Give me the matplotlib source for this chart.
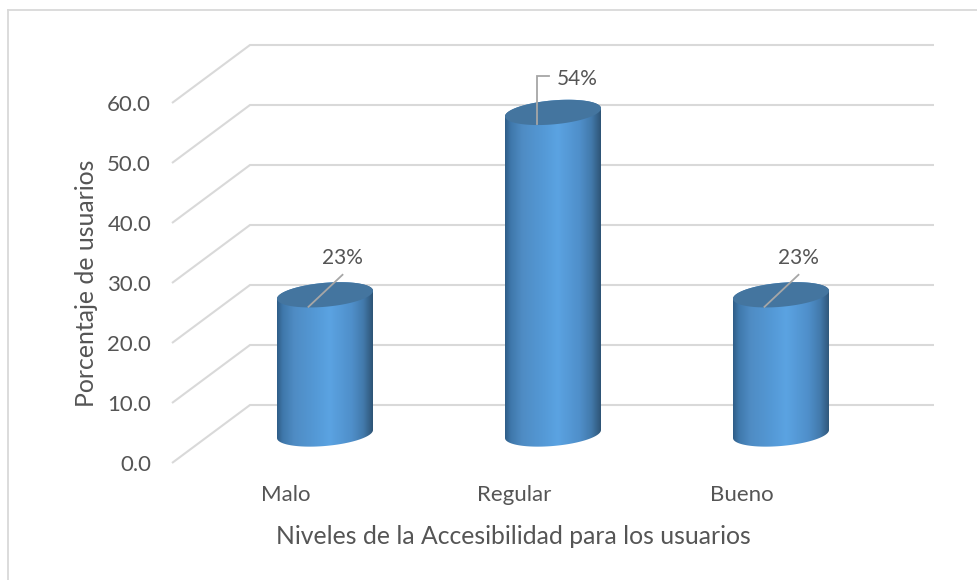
import numpy as np
from matplotlib import pyplot as plt
from matplotlib.colors import LinearSegmentedColormap
from matplotlib.lines import Line2D
from matplotlib.patches import Polygon

plt.rcParams['font.family'] = ['Lato', 'DejaVu Sans']

categorias = ["Malo", "Regular", "Bueno"]
valores = [23.2, 53.6, 23.2]
etiquetas = ["23%", "54%", "23%"]
ticks_y = [0, 10, 20, 30, 40, 50, 60]

# taille d'une unite en pixels (x : categorie, y : pourcentage)
PX_X = 228.0
PX_Y = 6.0
# profondeur du plancher 3D
DX = 78 / PX_X
DY = 58 / PX_Y

W, H = 978, 580
fig = plt.figure(figsize=(W / 100, H / 100), dpi=100)
ax = fig.add_axes([172 / W, 1 - 463 / H, 762 / W, 418 / H])
ax.set_xlim(-0.5, 2.5 + DX)
ax.set_ylim(0, 60 + DY)
for s in ax.spines.values():
    s.set_visible(False)

gris = "#d9d9d9"
texte = "#555555"

# cadre
fig.add_artist(Line2D([8 / W, 8 / W], [0, 1 - 10 / H], color=gris, lw=1.3))
fig.add_artist(Line2D([8 / W, 1], [1 - 10 / H, 1 - 10 / H], color=gris, lw=1.3))

# grille : diagonale + mur du fond
for v in ticks_y:
    ax.plot([-0.5, -0.5 + DX, 2.5 + DX], [v, v + DY, v + DY], color=gris, lw=1.5,
            solid_joinstyle='miter', solid_capstyle='butt', zorder=1, clip_on=False)

degrade = LinearSegmentedColormap.from_list("cyl", [
    (0.0, "#2f5d87"), (0.06, "#3f78ab"), (0.18, "#4f8cc4"), (0.40, "#5499d6"),
    (0.55, "#5ba3e2"), (0.78, "#4f8fca"), (0.90, "#437aac"), (1.0, "#2e5476")])
grad = np.linspace(0, 1, 256).reshape(1, -1)

A = 48 / PX_X
B = 12 / PX_Y
S = 4 / PX_Y


def cylindre(cx, hauteur):
    y0 = DY / 2
    t = np.linspace(0, 2 * np.pi, 200)
    # contour du corps : bas de l'ellipse du pied + haut de l'ellipse du sommet
    t_bas = np.linspace(np.pi, 2 * np.pi, 100)
    t_haut = np.linspace(0, np.pi, 100)
    xs = np.r_[cx + A * np.cos(t_bas), cx + A * np.cos(t_haut)]
    ys = np.r_[y0 + B * np.sin(t_bas) + S * np.cos(t_bas),
               y0 + hauteur + B * np.sin(t_haut) + S * np.cos(t_haut)]
    contour = Polygon(np.c_[xs, ys], closed=True, fc='none', ec='none', transform=ax.transData)
    ax.add_patch(contour)
    im = ax.imshow(grad, cmap=degrade, aspect='auto', zorder=2,
                   extent=[cx - A, cx + A, y0 - 5, y0 + hauteur + 5])
    im.set_clip_path(contour)
    sommet = np.c_[cx + A * np.cos(t), y0 + hauteur + B * np.sin(t) + S * np.cos(t)]
    ax.add_patch(Polygon(sommet, closed=True, fc="#44759f", ec='none', zorder=3))


for i, (nom, val) in enumerate(zip(categorias, valores)):
    cx = i + DX / 2
    cylindre(cx, val)
    base_y = DY / 2 + val - 12 / PX_Y
    lx = cx - 16.5 / PX_X
    if nom == "Regular":
        ax.plot([lx, lx, lx + 12 / PX_X], [base_y, base_y + 48 / PX_Y, base_y + 48 / PX_Y],
                color="#a6a6a6", lw=1.3, zorder=4, solid_joinstyle='miter')
        ax.text(lx + 41 / PX_X, base_y + 45 / PX_Y, etiquetas[i], ha='center', va='center',
                fontsize=15, color=texte, zorder=5)
    else:
        ax.plot([lx, lx + 34 / PX_X], [base_y, base_y + 32 / PX_Y],
                color="#a6a6a6", lw=1.3, zorder=4)
        ax.text(lx + 34 / PX_X, base_y + 49 / PX_Y, etiquetas[i], ha='center', va='center',
                fontsize=15, color=texte, zorder=5)

ax.set_xlim(-0.5, 2.5 + DX)
ax.set_ylim(0, 60 + DY)

ax.set_yticks(ticks_y)
ax.set_yticklabels(["%.1f" % v for v in ticks_y])
ax.set_xticks(range(len(categorias)))
ax.set_xticklabels(categorias)
ax.tick_params(axis='both', length=0, labelsize=16, labelcolor=texte)
ax.tick_params(axis='y', pad=15)
ax.tick_params(axis='x', pad=16)
ax.set_xlabel("Niveles de la Accesibilidad para los usuarios", fontsize=17.8, color=texte)
ax.set_ylabel("Porcentaje de usuarios", fontsize=17.9, color=texte)
ax.xaxis.set_label_coords((513 - 172) / 762, -(536 - 463) / 418, transform=ax.transAxes)
ax.xaxis.label.set_va('center')
ax.yaxis.set_label_coords((87 - 172) / 762, (463 - 283) / 418, transform=ax.transAxes)
ax.yaxis.label.set_va('center')

fig.savefig("out.png", dpi=100)
